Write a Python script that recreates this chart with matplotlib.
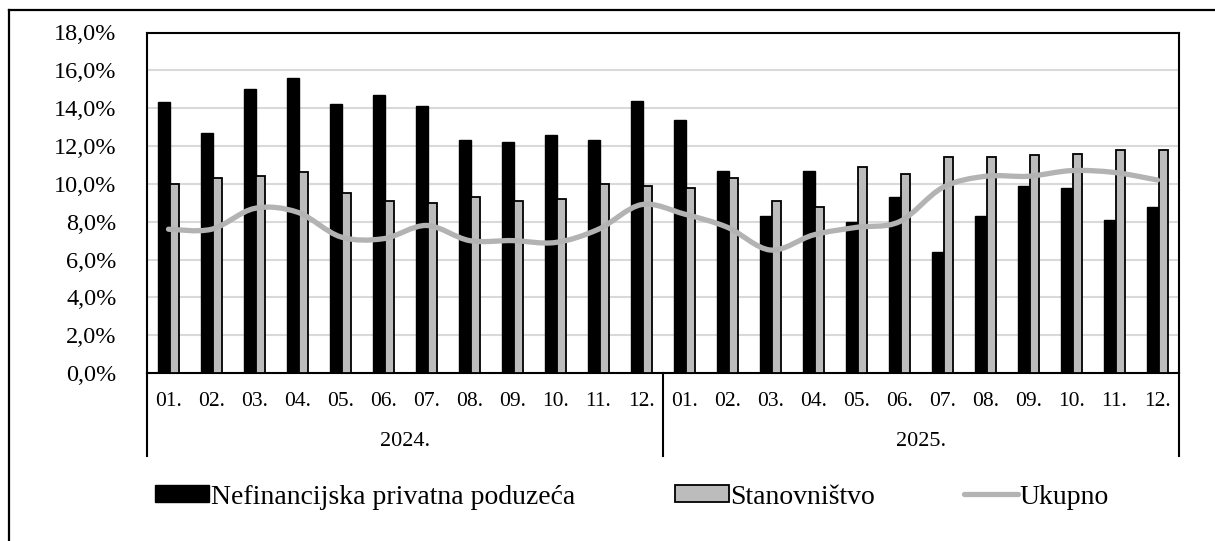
import numpy as np
import matplotlib
matplotlib.use("Agg")
import matplotlib.pyplot as plt
from matplotlib.path import Path
from matplotlib.patches import PathPatch, Patch
from matplotlib.lines import Line2D
from matplotlib.ticker import FuncFormatter

# ---------------- data ----------------
months = ["01.", "02.", "03.", "04.", "05.", "06.", "07.", "08.", "09.", "10.", "11.", "12."]
years = ["2024.", "2025."]

nefin = [14.3, 12.7, 15.0, 15.6, 14.2, 14.7, 14.1, 12.3, 12.2, 12.6, 12.3, 14.4,
         13.4, 10.7, 8.3, 10.7, 8.0, 9.3, 6.4, 8.3, 9.9, 9.8, 8.1, 8.8]
stanov = [10.0, 10.3, 10.4, 10.6, 9.5, 9.1, 9.0, 9.3, 9.1, 9.2, 10.0, 9.9,
          9.8, 10.3, 9.1, 8.8, 10.9, 10.5, 11.4, 11.4, 11.5, 11.6, 11.8, 11.8]
ukupno = [7.6, 7.6, 8.7, 8.5, 7.2, 7.1, 7.8, 7.0, 7.0, 6.9, 7.6, 8.9,
          8.4, 7.7, 6.5, 7.3, 7.7, 8.0, 9.8, 10.4, 10.4, 10.7, 10.6, 10.2]

labels = ["Nefinancijska privatna poduzeća", "Stanovništvo", "Ukupno"]

plt.rcParams['font.family'] = ['Liberation Serif', 'DejaVu Serif']

fig = plt.figure(figsize=(12.15, 5.41), dpi=100)
ax = fig.add_axes([147 / 1215, 1 - 373 / 541, (1179 - 147) / 1215, (373 - 32.5) / 541])

x = np.arange(len(nefin))
ax.bar(x - 0.11, nefin, width=0.29, color="black", edgecolor="black", linewidth=1.0, zorder=3)
ax.bar(x + 0.135, stanov, width=0.2, color="#bcbcbc", edgecolor="black", linewidth=1.3, zorder=3)

# smoothed line (Excel style) through the points
pts = np.column_stack([x, ukupno]).astype(float)
verts = [pts[0]]
codes = [Path.MOVETO]
n = len(pts)
for i in range(n - 1):
    p0 = pts[i - 1] if i > 0 else pts[i]
    p1 = pts[i]
    p2 = pts[i + 1]
    p3 = pts[i + 2] if i + 2 < n else pts[i + 1]
    c1 = p1 + (p2 - p0) / 6.0
    c2 = p2 - (p3 - p1) / 6.0
    verts += [c1, c2, p2]
    codes += [Path.CURVE4] * 3
ax.add_patch(PathPatch(Path(verts, codes), fill=False, edgecolor="#b3b3b3",
                       linewidth=3.8, capstyle="round", joinstyle="round", zorder=4))

ax.set_ylim(0, 18)
ax.set_xlim(-0.5, len(nefin) - 0.5)
ax.set_yticks(np.arange(0, 18.1, 2))
ax.yaxis.set_major_formatter(FuncFormatter(lambda v, p: f"{v:.1f}%".replace(".", ",")))
ax.tick_params(axis="y", length=0, labelsize=17.5, pad=22)
ax.set_xticks([])
ax.grid(axis="y", color="#d9d9d9", linewidth=1.5, zorder=0)
for s in ax.spines.values():
    s.set_linewidth(1.5)
    s.set_color("black")

# category labels below the axis
tr = ax.get_xaxis_transform()
for i in range(len(nefin)):
    ax.text(i, -0.085, months[i % 12], transform=tr, ha="center", va="center", fontsize=15.5)
for k, yr in enumerate(years):
    ax.text(k * 12 + 5.5, -0.2, yr, transform=tr, ha="center", va="center", fontsize=16)
for xs in [-0.5, 11.5, 23.5]:
    ax.plot([xs, xs], [0, -0.244], transform=tr, color="black", linewidth=1.5, clip_on=False)

# legend, one entry placed at a time
handles = [Patch(facecolor="black", edgecolor="black"),
           Patch(facecolor="#bcbcbc", edgecolor="black", linewidth=1.3),
           Line2D([0], [0], color="#b3b3b3", linewidth=3.8, solid_capstyle="round")]
anchors = [155 / 1215, 675 / 1215, 964 / 1215]
for h, lab, ax0 in zip(handles, labels, anchors):
    fig.legend([h], [lab], loc="center left", bbox_to_anchor=(ax0, 1 - 497 / 541),
               frameon=False, fontsize=20, handlelength=1.95, handleheight=0.58,
               handletextpad=0.05, borderpad=0, borderaxespad=0)

# outer frame (left and top)
fig.add_artist(Line2D([9 / 1215, 9 / 1215], [0, 1 - 10 / 541], color="black", linewidth=1.6))
fig.add_artist(Line2D([9 / 1215, 1], [1 - 10 / 541, 1 - 10 / 541], color="black", linewidth=1.6))

fig.savefig("out.png", dpi=100)
